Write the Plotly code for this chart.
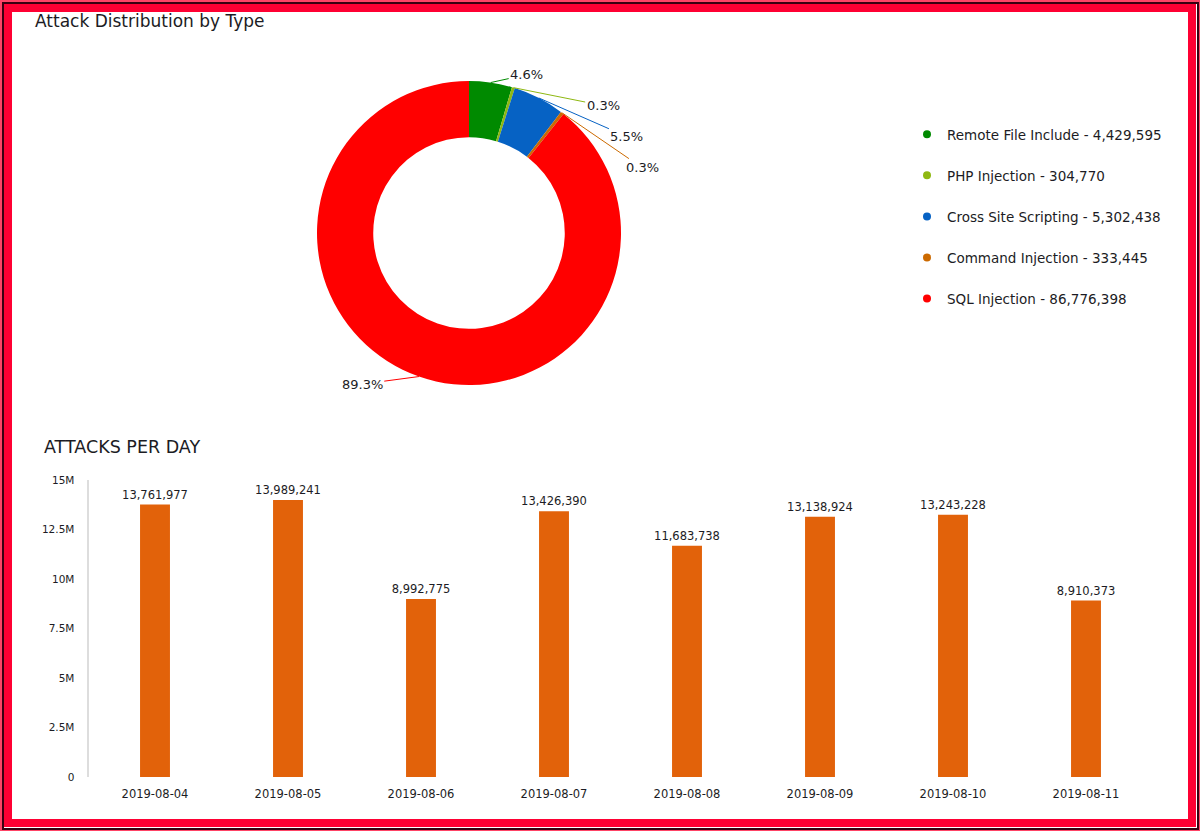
import math
import plotly.graph_objects as go

# ---------------- data ----------------
attack_types = ["Remote File Include", "PHP Injection", "Cross Site Scripting",
                "Command Injection", "SQL Injection"]
attack_counts = [4429595, 304770, 5302438, 333445, 86776398]
attack_colors = ["#008a00", "#8fb812", "#0662c4", "#cc6a00", "#ff0000"]

days = ["2019-08-04", "2019-08-05", "2019-08-06", "2019-08-07",
        "2019-08-08", "2019-08-09", "2019-08-10", "2019-08-11"]
attacks_per_day = [13761977, 13989241, 8992775, 13426390,
                   11683738, 13138924, 13243228, 8910373]

y_tick_vals = [0, 2500000, 5000000, 7500000, 10000000, 12500000, 15000000]
y_tick_text = ["0", "2.5M", "5M", "7.5M", "10M", "12.5M", "15M"]

# ---------------- layout helpers (pixels -> paper) ----------------
W, H = 1200, 831
FONT = "DejaVu Sans"
TXT = "#1c1c24"


def px(x):
    return x / W


def py(y):
    return 1 - y / H


PIE_CX, PIE_CY, PIE_R = 469, 233, 152

fig = go.Figure()

fig.add_trace(go.Pie(
    labels=attack_types, values=attack_counts, sort=False, direction="clockwise",
    rotation=0, hole=0.63, marker=dict(colors=attack_colors, line=dict(width=0)),
    textinfo="none", hoverinfo="label+value+percent", showlegend=False,
    domain=dict(x=[px(PIE_CX - PIE_R), px(PIE_CX + PIE_R)],
                y=[py(PIE_CY + PIE_R), py(PIE_CY - PIE_R)]),
))

# legend entries with round markers
for name, val, col in zip(attack_types, attack_counts, attack_colors):
    fig.add_trace(go.Scatter(
        x=[None], y=[None], mode="markers", name=f"{name} - {val:,}",
        marker=dict(color=col, size=8, symbol="circle"),
        legendgroup=name, showlegend=True, hoverinfo="skip",
    ))

fig.add_trace(go.Bar(
    x=days, y=attacks_per_day, marker=dict(color="#e2620a", line=dict(width=0)),
    texttemplate="%{y:,}", textposition="outside", cliponaxis=False,
    constraintext="none",
    textfont=dict(size=11.5, color=TXT, family=FONT), showlegend=False,
))

# ---------------- pie percentage labels with leader lines ----------------
total = sum(attack_counts)
cum = 0.0
labels = []
for val, col in zip(attack_counts, attack_colors):
    frac = val / total
    a = 2 * math.pi * (cum + frac / 2)
    cum += frac
    ex = PIE_CX + PIE_R * math.sin(a)
    ey = PIE_CY - PIE_R * math.cos(a)
    ny = PIE_CY - 160 * math.cos(a)
    labels.append(dict(a=a, ex=ex, ey=ey, y=ny, col=col, txt=f"{frac * 100:.1f}%",
                       right=math.sin(a) >= 0))

for side in (True, False):
    grp = sorted([l for l in labels if l["right"] == side], key=lambda l: l["y"])
    prev = None
    for l in grp:
        if prev is not None and l["y"] < prev + 31:
            l["y"] = prev + 31
        prev = l["y"]

for l in labels:
    dy = l["y"] - PIE_CY
    dx = math.sqrt(max(185 ** 2 - dy ** 2, 0))
    if l["right"]:
        lx = min(PIE_CX + dx, l["ex"] + 36)
        lx = PIE_CX + dx if l["y"] > l["ey"] else lx
    else:
        lx = PIE_CX - dx
    fig.add_annotation(
        x=px(l["ex"]), y=py(l["ey"]), xref="paper", yref="paper",
        ax=lx - l["ex"], ay=l["y"] - l["ey"], text=l["txt"],
        showarrow=True, arrowhead=0, arrowwidth=1, arrowcolor=l["col"], standoff=0,
        font=dict(size=13, color=TXT, family=FONT),
    )

# titles
fig.add_annotation(x=px(33), y=py(21), xref="paper", yref="paper", xanchor="left",
                   yanchor="middle", showarrow=False, text="Attack Distribution by Type",
                   font=dict(size=17, color=TXT, family=FONT))
fig.add_annotation(x=px(42), y=py(447), xref="paper", yref="paper", xanchor="left",
                   yanchor="middle", showarrow=False, text="ATTACKS PER DAY",
                   font=dict(size=17.5, color=TXT, family=FONT))

# frame
fig.add_shape(type="rect", xref="paper", yref="paper", x0=px(1), x1=px(W - 1),
              y0=py(H - 1), y1=py(1), line=dict(color="#ff4466", width=2))
fig.add_shape(type="rect", xref="paper", yref="paper", x0=px(3), x1=px(W - 2),
              y0=py(H - 2), y1=py(3), line=dict(color="#3a0010", width=2))
fig.add_shape(type="rect", xref="paper", yref="paper", x0=px(8), x1=px(W - 8),
              y0=py(H - 8), y1=py(8), line=dict(color="#ff0033", width=8))

fig.update_layout(
    width=W, height=H, margin=dict(l=0, r=0, t=0, b=0, pad=0, autoexpand=False),
    paper_bgcolor="white", plot_bgcolor="white",
    font=dict(family=FONT, color=TXT),
    bargap=0.775,
    legend=dict(x=px(907), y=py(119), xanchor="left", yanchor="top",
                font=dict(size=13.5, color=TXT, family=FONT),
                tracegroupgap=20.5, bgcolor="rgba(0,0,0,0)"),
    xaxis=dict(domain=[px(88.5), px(1152.5)], anchor="y", type="category",
               showgrid=False, showline=False, zeroline=False, ticks="",
               automargin=False, ticklabelstandoff=8,
               tickfont=dict(size=11.5, color=TXT, family=FONT)),
    yaxis=dict(domain=[py(777), py(480)], anchor="x", range=[0, 15000000],
               tickvals=y_tick_vals, ticktext=y_tick_text, showgrid=False,
               zeroline=False, showline=True, linecolor="#dddddd", linewidth=2,
               ticks="", ticklabelstandoff=10, automargin=False,
               tickfont=dict(size=10.5, color=TXT, family=FONT)),
)

fig.write_html("out.html", config={"displayModeBar": False},
               post_script="document.body.style.margin='0';document.body.style.overflow='hidden';")
